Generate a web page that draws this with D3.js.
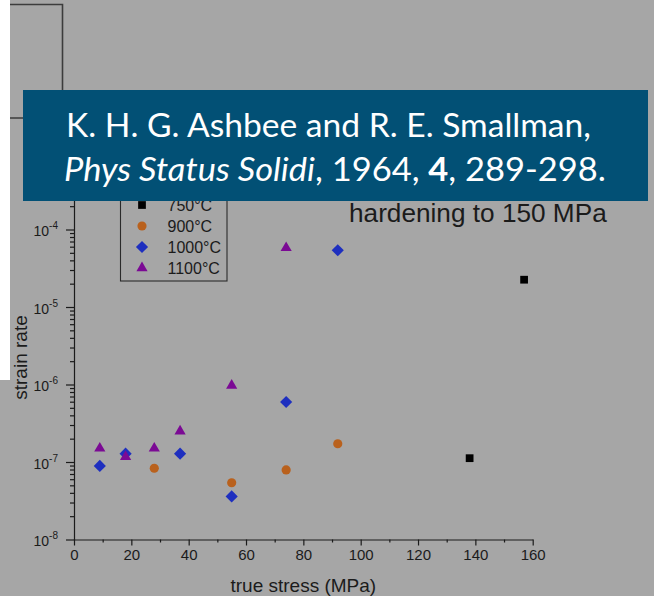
<!DOCTYPE html>
<html>
<head>
<meta charset="utf-8">
<script src="https://cdn.jsdelivr.net/npm/d3@7"></script>
<style>
  html, body { margin: 0; padding: 0; background: #a6a6a6; }
  svg { display: block; }
</style>
</head>
<body>
<svg id="chart" width="654" height="596"></svg>
<script>
// Strain rate vs. true stress, one series per test temperature
const temps = ["750°C", "900°C", "1000°C", "1100°C"];
const stress750 = [157, 138];
const rate750 = [2.25e-5, 1.12e-7];
const stress900 = [28, 55, 74, 92];
const rate900 = [8.3e-8, 5.4e-8, 7.9e-8, 1.72e-7];
const stress1000 = [9, 18, 37, 55, 74, 92];
const rate1000 = [8.9e-8, 1.28e-7, 1.28e-7, 3.6e-8, 5.95e-7, 5.4e-5];
const stress1100 = [9, 18, 28, 37, 55, 74];
const rate1100 = [1.5e-7, 1.17e-7, 1.5e-7, 2.5e-7, 9.7e-7, 5.8e-5];
const xTicks = [0, 20, 40, 60, 80, 100, 120, 140, 160];
const xMinorTicks = [10, 30, 50, 70, 90, 110, 130, 150];
const yExponents = [-8, -7, -6, -5, -4, -3];

const series = [
  { name: temps[0], xs: stress750, ys: rate750, color: "#000000", shape: "square" },
  { name: temps[1], xs: stress900, ys: rate900, color: "#b9611d", shape: "circle" },
  { name: temps[2], xs: stress1000, ys: rate1000, color: "#1e2fbf", shape: "diamond" },
  { name: temps[3], xs: stress1100, ys: rate1100, color: "#7b0a94", shape: "triangle" }
];

const svg = d3.select("#chart");
const font = "'Liberation Sans', Arial, sans-serif";
const ink = "#1b1b1b";

// page background
svg.append("rect").attr("width", 654).attr("height", 596).attr("fill", "#a6a6a6");
svg.append("rect").attr("x", 0).attr("y", 0).attr("width", 10).attr("height", 380).attr("fill", "#ffffff");

// outline of a neighbouring frame in the top-left corner
svg.append("path")
  .attr("d", "M10,4.5 H62.5 V118 M10,118 H30")
  .attr("fill", "none").attr("stroke", "#3c3c3c").attr("stroke-width", 1.6);

const x = d3.scaleLinear().domain([0, 160]).range([74, 532.7]);
const y = d3.scaleLog().domain([1e-8, 1e-3]).range([539.5, 152]);

// x axis
const gx = svg.append("g").attr("transform", `translate(0,${y(1e-8)})`);
gx.call(d3.axisBottom(x).tickValues(xTicks).tickSize(6).tickSizeOuter(0).tickFormat(d3.format("d")));
gx.append("g").call(d3.axisBottom(x).tickValues(xMinorTicks).tickSize(3).tickSizeOuter(0).tickFormat(""))
  .select(".domain").remove();
gx.selectAll("path, line").attr("stroke", ink).attr("stroke-width", 1.2);
gx.selectAll("text").attr("font-family", font).attr("font-size", 15).attr("fill", ink)
  .attr("y", 10).attr("dy", "0.71em");

// y axis (log)
const yMinor = [];
yExponents.slice(0, -1).forEach(e => { for (let k = 2; k <= 9; k++) yMinor.push(k * Math.pow(10, e)); });
const gy = svg.append("g").attr("transform", `translate(${x(0)},0)`);
gy.call(d3.axisLeft(y).tickValues(yExponents.map(e => Math.pow(10, e))).tickSize(8).tickSizeOuter(0).tickFormat(""));
gy.append("g").call(d3.axisLeft(y).tickValues(yMinor).tickSize(4).tickSizeOuter(0).tickFormat(""))
  .select(".domain").remove();
gy.selectAll("path, line").attr("stroke", ink).attr("stroke-width", 1.2);
const yLab = gy.selectAll("text.ylab").data(yExponents).join("text")
  .attr("class", "ylab")
  .attr("x", -16)
  .attr("y", e => y(Math.pow(10, e)) + 6.5)
  .attr("text-anchor", "end")
  .attr("font-family", font).attr("fill", ink);
yLab.append("tspan").attr("font-size", 14).text("10");
yLab.append("tspan").attr("font-size", 10).attr("dy", -7).text(e => "-" + Math.abs(e));

// axis titles
svg.append("text").attr("x", (x(0) + x(160)) / 2).attr("y", 591.5)
  .attr("text-anchor", "middle").attr("font-family", font).attr("font-size", 19).attr("fill", ink)
  .text("true stress (MPa)");
svg.append("text").attr("transform", "translate(27,357.5) rotate(-90)")
  .attr("text-anchor", "middle").attr("font-family", font).attr("font-size", 19).attr("fill", ink)
  .text("strain rate");

// markers
function symbolFor(shape) {
  if (shape === "square") return d3.symbol(d3.symbolSquare, 60)();
  if (shape === "circle") return d3.symbol(d3.symbolCircle, 66)();
  if (shape === "diamond") return d3.symbol(d3.symbolSquare, 74)();
  return d3.symbol(d3.symbolTriangle, 54)();
}
series.forEach(s => {
  svg.append("g").selectAll("path").data(s.xs.map((v, i) => [v, s.ys[i]])).join("path")
    .attr("d", symbolFor(s.shape))
    .attr("transform", d => `translate(${x(d[0])},${y(d[1])})` + (s.shape === "diamond" ? " rotate(45)" : ""))
    .attr("fill", s.color);
});

// legend
svg.append("rect").attr("x", 120.5).attr("y", 170).attr("width", 106.5).attr("height", 111)
  .attr("fill", "none").attr("stroke", "#2a2a2a").attr("stroke-width", 1.1);
const leg = svg.append("g").selectAll("g").data(series).join("g")
  .attr("transform", (d, i) => `translate(142,${205 + i * 21})`);
leg.append("path").attr("d", d => symbolFor(d.shape)).attr("fill", d => d.color)
  .attr("transform", d => d.shape === "diamond" ? "rotate(45)" : null);
leg.append("text").attr("x", 25.5).attr("dy", "0.36em").attr("font-family", font).attr("font-size", 16)
  .attr("fill", ink).text(d => d.name);

// reference banner
svg.append("rect").attr("x", 23).attr("y", 90).attr("width", 625).attr("height", 111).attr("fill", "#025075");
const bfont = "Lato, 'Open Sans', sans-serif";
function fitLine(sel, x0, x1) {
  const w = sel.node().getComputedTextLength();
  const baseY = +sel.attr("data-y");
  sel.attr("transform", `translate(${x0},${baseY}) scale(${(x1 - x0) / w},1)`);
}
const l1 = svg.append("text").attr("data-y", 137).attr("font-family", bfont).attr("font-size", 33)
  .attr("fill", "#ffffff").text("K. H. G. Ashbee and R. E. Smallman,");
fitLine(l1, 66, 591);
const l2 = svg.append("text").attr("data-y", 181).attr("font-family", bfont).attr("font-size", 33).attr("fill", "#ffffff");
l2.append("tspan").attr("font-style", "italic").text("Phys Status Solidi");
l2.append("tspan").text(", 1964, ");
l2.append("tspan").attr("font-weight", "bold").text("4");
l2.append("tspan").text(", 289-298.");
fitLine(l2, 64, 606);

// annotation
svg.append("text").attr("x", 349).attr("y", 222.3).attr("font-family", font).attr("font-size", 26.2)
  .attr("fill", ink).text("hardening to 150 MPa");
</script>
</body>
</html>
